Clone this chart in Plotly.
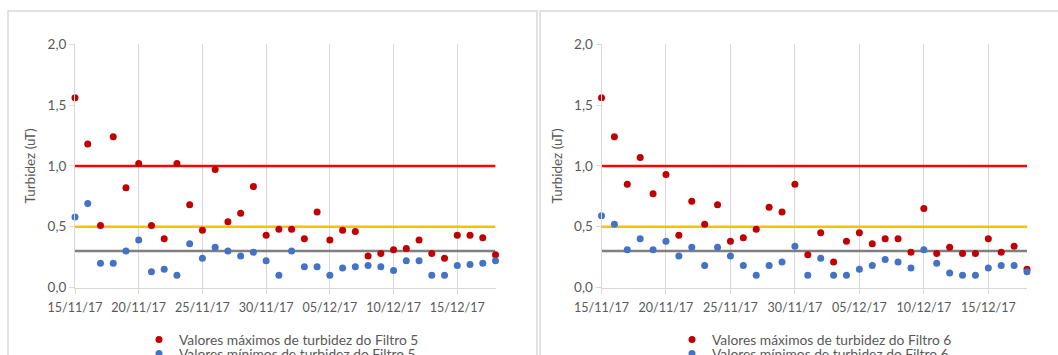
import plotly.graph_objects as go

W, H = 1058, 355

dates = [
    "2017-11-15", "2017-11-16", "2017-11-17", "2017-11-18", "2017-11-19", "2017-11-20",
    "2017-11-21", "2017-11-22", "2017-11-23", "2017-11-24", "2017-11-25", "2017-11-26",
    "2017-11-27", "2017-11-28", "2017-11-29", "2017-11-30", "2017-12-01", "2017-12-02",
    "2017-12-03", "2017-12-04", "2017-12-05", "2017-12-06", "2017-12-07", "2017-12-08",
    "2017-12-09", "2017-12-10", "2017-12-11", "2017-12-12", "2017-12-13", "2017-12-14",
    "2017-12-15", "2017-12-16", "2017-12-17", "2017-12-18",
]

f5_max = [1.56, 1.18, 0.51, 1.24, 0.82, 1.02, 0.51, 0.40, 1.02, 0.68, 0.47, 0.97,
          0.54, 0.61, 0.83, 0.43, 0.48, 0.48, 0.40, 0.62, 0.39, 0.47, 0.46, 0.26,
          0.28, 0.31, 0.32, 0.39, 0.28, 0.24, 0.43, 0.43, 0.41, 0.27]
f5_min = [0.58, 0.69, 0.20, 0.20, 0.30, 0.39, 0.13, 0.15, 0.10, 0.36, 0.24, 0.33,
          0.30, 0.26, 0.29, 0.22, 0.10, 0.30, 0.17, 0.17, 0.10, 0.16, 0.17, 0.18,
          0.17, 0.14, 0.22, 0.22, 0.10, 0.10, 0.18, 0.19, 0.20, 0.22]
f6_max = [1.56, 1.24, 0.85, 1.07, 0.77, 0.93, 0.43, 0.71, 0.52, 0.68, 0.38, 0.41,
          0.48, 0.66, 0.62, 0.85, 0.27, 0.45, 0.21, 0.38, 0.45, 0.36, 0.40, 0.40,
          0.29, 0.65, 0.28, 0.33, 0.28, 0.28, 0.40, 0.29, 0.34, 0.15]
f6_min = [0.59, 0.52, 0.31, 0.40, 0.31, 0.38, 0.26, 0.33, 0.18, 0.33, 0.26, 0.18,
          0.10, 0.18, 0.21, 0.34, 0.10, 0.24, 0.10, 0.10, 0.15, 0.18, 0.23, 0.21,
          0.16, 0.31, 0.20, 0.12, 0.10, 0.10, 0.16, 0.18, 0.18, 0.13]

limits = [1.0, 0.5, 0.3]
limit_colors = ["#FF0000", "#FFC000", "#7F7F7F"]

labels_max = ["Valores máximos de turbidez do Filtro 5", "Valores máximos de turbidez do Filtro 6"]
labels_min = ["Valores mínimos de turbidez do Filtro 5", "Valores mínimos de turbidez do Filtro 6"]

y_ticks = [0, 0.5, 1.0, 1.5, 2.0]

FONT = "Lato"
TXT = "#595959"

fig = go.Figure()

panels = [
    dict(xa="x", ya="y", lmax="legend", lmin="legend3", mx=f5_max, mn=f5_min, lab=0),
    dict(xa="x2", ya="y2", lmax="legend2", lmin="legend4", mx=f6_max, mn=f6_min, lab=1),
]

for p in panels:
    for val, col in zip(limits, limit_colors):
        fig.add_trace(go.Scatter(
            x=[dates[0], dates[-1]], y=[val, val], mode="lines",
            line=dict(color=col, width=2.5), showlegend=False,
            xaxis=p["xa"], yaxis=p["ya"], hoverinfo="skip"))
    fig.add_trace(go.Scatter(
        x=dates, y=p["mx"], mode="markers", name=labels_max[p["lab"]],
        marker=dict(color="#C00000", size=7), cliponaxis=False,
        xaxis=p["xa"], yaxis=p["ya"], legend=p["lmax"]))
    fig.add_trace(go.Scatter(
        x=dates, y=p["mn"], mode="markers", name=labels_min[p["lab"]],
        marker=dict(color="#4472C4", size=7), cliponaxis=False,
        xaxis=p["xa"], yaxis=p["ya"], legend=p["lmin"]))

def xaxis(domain, anchor):
    return dict(
        domain=domain, anchor=anchor, type="date",
        range=[dates[0], dates[-1]],
        tick0=dates[0], dtick=5 * 86400000, tickformat="%d/%m/%y",
        tickangle=0, ticklabelstandoff=3,
        showgrid=True, gridcolor="#D9D9D9", gridwidth=1,
        showline=True, linecolor="#D9D9D9", linewidth=1,
        ticks="outside", ticklen=5, tickcolor="#D9D9D9",
        tickfont=dict(family=FONT, size=12.5, color=TXT),
        zeroline=False, fixedrange=True)

def yaxis(domain, anchor):
    return dict(
        domain=domain, anchor=anchor, range=[0, 2.0],
        tickvals=y_ticks, tickformat=".1f",
        showgrid=False, showline=True, linecolor="#D9D9D9", linewidth=1,
        ticks="outside", ticklen=5, tickcolor="#D9D9D9",
        tickfont=dict(family=FONT, size=13.5, color=TXT),
        title=dict(text="Turbidez (uT)", font=dict(family=FONT, size=13.5, color=TXT), standoff=8),
        zeroline=False, fixedrange=True)

ydom = [1 - 287.5 / H, 1 - 44.3 / H]

def legend(xpx, ypx):
    return dict(x=xpx / W, y=1 - ypx / H, xanchor="left", yanchor="top",
                font=dict(family=FONT, size=13.8, color=TXT), tracegroupgap=0,
                bgcolor="rgba(0,0,0,0)")

fig.update_layout(
    width=W, height=H,
    margin=dict(l=0, r=0, t=0, b=0, autoexpand=False),
    paper_bgcolor="white", plot_bgcolor="white",
    separators=",.",
    font=dict(family=FONT, color=TXT),
    xaxis=xaxis([75 / W, 495.5 / W], "y"),
    yaxis=yaxis(ydom, "x"),
    xaxis2=xaxis([601.5 / W, 1027 / W], "y2"),
    yaxis2=yaxis(ydom, "x2"),
    legend=legend(139, 324),
    legend3=legend(139, 338),
    legend2=legend(672, 324),
    legend4=legend(672, 338),
    shapes=[
        dict(type="rect", xref="paper", yref="paper",
             x0=8 / W, x1=537 / W, y0=-0.1, y1=1 - 11 / H,
             line=dict(color="#D9D9D9", width=1.5), layer="below"),
        dict(type="rect", xref="paper", yref="paper",
             x0=540 / W, x1=1.1, y0=-0.1, y1=1 - 11 / H,
             line=dict(color="#D9D9D9", width=1.5), layer="below"),
    ],
)

fig.write_html("out.html", config={"displayModeBar": False},
               post_script="document.body.style.margin='0';")
